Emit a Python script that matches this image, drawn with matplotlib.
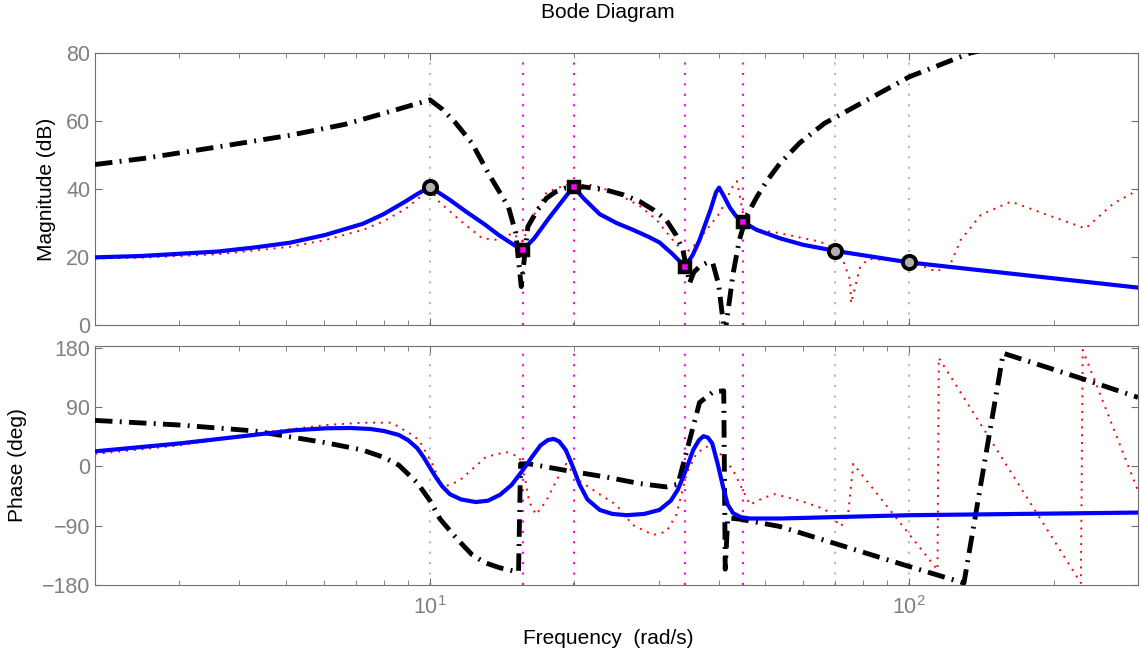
import matplotlib.pyplot as plt
from matplotlib.ticker import NullFormatter, LogLocator

plt.rcParams['font.family'] = ['Liberation Sans', 'DejaVu Sans']
plt.rcParams['mathtext.default'] = 'regular'

# ==========================================
# values
# ==========================================

# solid blue curve
blue_mag_w = [2, 2.5, 3.6, 4.3, 5.1, 6.05, 7.25, 8.0, 8.9, 9.4, 10, 11.0, 11.9, 13.0, 13.9,
              14.8, 15.6, 16.5, 17.7, 19.0, 19.9, 21.0, 22.6, 24.5, 26.5, 28.5, 30.1, 32.0,
              34, 35.3, 36.5, 38.5, 39.5, 40.1, 41.0, 42.2, 43.5, 45, 48, 53.7, 60, 70, 100, 300]
blue_mag = [19.9, 20.3, 21.6, 22.8, 24.2, 26.5, 29.8, 32.6, 36.4, 38.5, 40.6, 36.8, 33.3, 29.6, 26.5,
            24.0, 22.0, 25.5, 31.4, 37.0, 40.6, 37.0, 32.6, 30.0, 28.0, 26.0, 24.3, 21.0,
            17.2, 20.5, 25.0, 34.0, 39.0, 40.4, 38.0, 34.6, 32.0, 30.3, 28.0, 25.5, 23.6, 21.8, 18.4, 11.0]
blue_ph_w = [2, 3, 4.3, 5.2, 6.07, 6.8, 7.5, 8.0, 8.6, 9.0, 9.4, 9.7, 10, 10.3, 10.6, 11.0,
             11.6, 12.45, 13.2, 14.0, 14.8, 15.6, 16.3, 17.0, 17.6, 18.1, 18.6, 19.2, 19.8,
             20.5, 21.3, 22.6, 24.0, 25.7, 28.0, 30.1, 31.8, 32.9, 34.2, 35.4, 36.4, 37.2,
             38.0, 38.8, 39.8, 40.9, 41.8, 42.9, 44.5, 46.5, 53.7, 100, 300]
blue_ph = [23, 35, 48, 55, 58, 58.5, 57, 54, 48, 40, 28, 14, -2, -17, -30, -42,
           -50, -54, -52, -43, -28, -6, 14, 32, 40, 42, 38, 25, 2,
           -27, -50, -66, -72, -74, -72, -66, -52, -35, -5, 25, 40, 46,
           44, 35, 5, -32, -58, -71, -77, -79, -79, -74, -70]

# black dash-dot curve
black_mag_w = [2, 2.53, 3.58, 5.1, 6.64, 7.89, 10, 10.6, 11.3, 12.23, 13.35, 14.57, 15.1, 15.5,
               16.0, 16.7, 17.5, 18.3, 19.2, 21.0, 23.3, 25.3, 27.4, 29.3, 31.1, 32.6, 33.7,
               34.8, 35.5, 36.5, 38.0, 38.9, 40.0, 41.2, 42.9, 44.2, 45.7, 48.0, 50.5, 53.7,
               59.0, 66.5, 80, 100, 134, 300]
black_mag = [47.2, 49, 52.3, 55.8, 59, 62, 66.2, 63.5, 59.5, 53.5, 43.7, 34.8, 27.0, 11.3,
             28.9, 33.5, 37.3, 39.2, 40.3, 40.6, 39.7, 38.3, 36.3, 33.8, 30.9, 26.5, 22.0,
             12.3, 15.5, 17.2, 18.5, 18.2, 12.0, -3, 15.2, 25.0, 31.9, 37.5, 42.5, 47.5,
             53.5, 59.3, 65.5, 73, 80, 92]
black_ph_w = [2, 3, 4.3, 6.07, 7.23, 8.0, 8.61, 9.41, 10, 10.5, 11.2, 11.8, 12.24, 13.0, 14.0,
              15.0, 15.3, 15.45, 16.1, 19.2, 23.3, 27.4, 31.1, 32.9, 34.8, 36.5, 38.9, 41.0,
              41.3, 41.8, 44.3, 53.6, 70, 98, 130, 157, 228, 300]
black_ph = [70, 63, 54, 36, 25, 14, 2, -25, -52, -80, -104, -122, -134, -146, -154,
            -159, -160, 4, 4, -6, -16, -26, -31, -27, 40, 97, 113, 115,
            -156, -78, -80, -91, -117, -150, -177, 172, 134, 105]

# red dotted curve
red_mag_w = [2, 2.5, 3.6, 5.1, 6.05, 7.25, 8.0, 8.9, 9.6, 10, 10.44, 11.5, 12.85, 13.9,
             14.86, 15.6, 16.4, 17.5, 19.2, 21.9, 24.5, 27.4, 29.7, 32.1, 34, 35.4, 37.7,
             40.2, 42.9, 43.7, 45.5, 48.8, 53.7, 65.1, 70, 72.9, 75.25, 75.6, 79, 82.2,
             91.2, 100, 107, 114, 122, 128, 141, 163, 194, 233, 267, 300]
red_mag = [19.6, 19.8, 20.8, 23.0, 25.0, 28.0, 30.5, 34.2, 38.0, 40.3, 36.3, 31.0, 25.5, 25.0,
           27.0, 24.5, 31.9, 39.0, 41.2, 41.2, 38.7, 35.0, 30.9, 25.0, 21.0, 23.0, 27.9,
           32.9, 41.0, 42.3, 29.0, 27.9, 27.0, 24.5, 22.5, 18.6, 13.2, 6.4, 17.2, 19.4,
           19.1, 18.6, 17.2, 15.7, 18.1, 25.0, 32.4, 36.3, 32.4, 28.4, 35.8, 39.7]
red_ph_w = [2, 3, 4.3, 6.07, 7.23, 8.32, 9.08, 9.49, 10.11, 10.61, 11.5, 13.08, 14.4, 15.36,
            15.8, 16.1, 16.63, 17.46, 18.33, 19.23, 20.5, 22.57, 24.46, 26.5, 29.2, 31.13,
            32.66, 34.3, 35.97, 37.74, 40.24, 42.9, 46.5, 49.5, 52.4, 59.2, 66.7, 72.0,
            74.5, 76.4, 114.5, 115.2, 228, 230, 300]
red_ph = [19, 32, 50, 63, 66.5, 66.5, 50, 40, 4, -32, -22, 14.5, 22, 14.5,
          -20, -53, -73, -53, -22, 4, -22, -42, -58, -89, -104, -99,
          -73, -11, 20, 30, 20, -6, -58, -48, -42, -52, -65, -91,
          -73, 4, -157, 165, -177, 177, -37]

# marked frequencies
circle_w = [10, 70, 100]
circle_mag = [40.6, 21.8, 18.4]
square_w = [15.6, 20, 34, 45]
square_mag = [22.0, 40.6, 17.2, 30.3]

mag_ticks = [0, 20, 40, 60, 80]
phase_ticks = [-180, -90, 0, 90, 180]
phase_labels = ['\u2212180', '\u221290', '0', '90', '180']
freq_ticks = [10, 100]
freq_labels = ['$10^1$', '$10^2$']

# ==========================================
# figure
# ==========================================
W, H = 1141, 655
fig = plt.figure(figsize=(W / 100, H / 100), dpi=100)
left, right = 95 / W, 1138 / W
ax_mag = fig.add_axes([left, 1 - 325 / H, right - left, (325 - 53) / H])
ax_ph = fig.add_axes([left, 1 - 585 / H, right - left, (585 - 346) / H])

spine_col = '#707070'
tick_col = '#808080'
dot_ls = (0, (1, 4))
dashdot_ls = (0, (3.6, 1.5, 0.4, 1.5))
red_ls = (0, (1, 3))

for ax in (ax_mag, ax_ph):
    ax.set_xscale('log')
    ax.set_xlim(2, 300)
    for w in circle_w:
        ax.axvline(w, color='#b8b8b8', lw=1.5, ls=dot_ls, zorder=1)
    for w in square_w:
        ax.axvline(w, color='#ff00ff', lw=1.5, ls=dot_ls, zorder=1)
    for s in ax.spines.values():
        s.set_color(spine_col)
    ax.tick_params(which='both', direction='in', top=True, right=True,
                   color=spine_col, labelcolor=tick_col, labelsize=15.5)
    ax.tick_params(which='major', length=5)
    ax.tick_params(which='minor', length=3.5)
    ax.xaxis.set_minor_locator(LogLocator(base=10, subs=range(2, 10)))
    ax.xaxis.set_minor_formatter(NullFormatter())

# magnitude
ax_mag.plot(red_mag_w, red_mag, color='red', lw=1.4, ls=red_ls, zorder=2)
ax_mag.plot(black_mag_w, black_mag, color='black', lw=3.5, ls=dashdot_ls, zorder=3)
ax_mag.plot(blue_mag_w, blue_mag, color='blue', lw=3, zorder=4)
ax_mag.plot(circle_w, circle_mag, ls='none', marker='o', ms=9.5, mew=2.8,
            mfc='#b0b0b0', mec='black', zorder=5)
ax_mag.plot(square_w, square_mag, ls='none', marker='s', ms=7.5, mew=3.2,
            mfc='#ff00ff', mec='black', zorder=5)
ax_mag.set_ylim(0, 80)
ax_mag.set_yticks(mag_ticks)
ax_mag.set_xticks(freq_ticks)
ax_mag.tick_params(labelbottom=False)

# phase
ax_ph.plot(red_ph_w, red_ph, color='red', lw=1.4, ls=red_ls, zorder=2)
ax_ph.plot(black_ph_w, black_ph, color='black', lw=3.5, ls=dashdot_ls, zorder=3)
ax_ph.plot(blue_ph_w, blue_ph, color='blue', lw=3, zorder=4)
ax_ph.set_ylim(-180, 183)
ax_ph.set_yticks(phase_ticks)
ax_ph.set_yticklabels(phase_labels)
ax_ph.set_xticks(freq_ticks)
ax_ph.set_xticklabels(freq_labels)
ax_ph.tick_params(axis='x', pad=8)

# texts
fig.text(608 / W, 1 - 12 / H, 'Bode Diagram', ha='center', va='center', fontsize=15)
fig.text(608 / W, 1 - 639 / H, 'Frequency  (rad/s)', ha='center', va='center', fontsize=15)
fig.text(46 / W, 1 - 189 / H, 'Magnitude (dB)', rotation=90, ha='center', va='center', fontsize=15)
fig.text(18 / W, 1 - 465 / H, 'Phase (deg)', rotation=90, ha='center', va='center', fontsize=15)

fig.savefig('out.png', dpi=100)
